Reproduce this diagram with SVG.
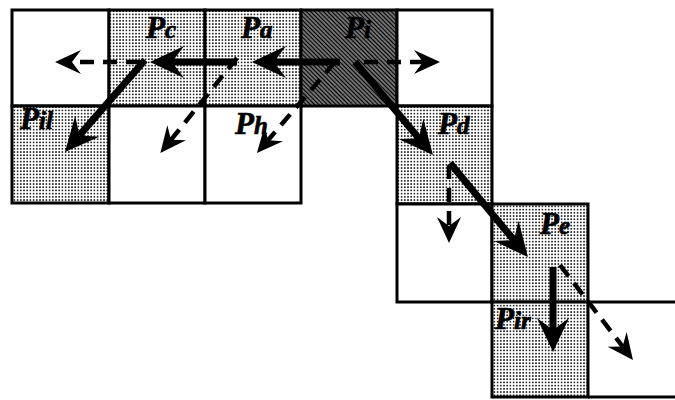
<svg xmlns="http://www.w3.org/2000/svg" width="675" height="400" viewBox="0 0 675 400">
  <defs>
    <!-- stippled fill for visited cells -->
    <pattern id="stipple" width="3.2" height="3.2" patternUnits="userSpaceOnUse">
      <rect width="3.2" height="3.2" fill="#ffffff"/>
      <circle cx="1.6" cy="1.6" r="0.9" fill="#000"/>
    </pattern>
    <!-- hatched fill for the current cell -->
    <pattern id="hatch" width="3" height="3" patternUnits="userSpaceOnUse" patternTransform="rotate(45)">
      <rect width="3" height="3" fill="#a0a0a0"/>
      <line x1="0" y1="1.5" x2="3" y2="1.5" stroke="#000" stroke-width="1.6"/>
    </pattern>
    <marker id="headSolid" markerUnits="userSpaceOnUse" markerWidth="36" markerHeight="36" viewBox="0 0 36 36" refX="13" refY="18" orient="auto">
      <path d="M35,18 L1,2 L13,18 L1,34 Z" fill="#000"/>
    </marker>
    <marker id="headDash" markerUnits="userSpaceOnUse" markerWidth="28" markerHeight="28" viewBox="0 0 28 28" refX="9" refY="14" orient="auto">
      <path d="M26,14 L0,2 L9,14 L0,26 Z" fill="#000"/>
    </marker>
    <style>
      .cell { stroke: #000; stroke-width: 3; }
      .plain { fill: #fff; }
      .shade { fill: url(#stipple); }
      .dark { fill: url(#hatch); }
      .lbl { font-family: "Liberation Serif", "Times New Roman", serif; font-weight: bold; font-style: italic; font-size: 31px; fill: #000; stroke: #000; stroke-width: 0.7; }
      .sub { font-size: 25px; }
      .solid { stroke: #000; stroke-width: 7; fill: none; marker-end: url(#headSolid); }
      .dash { stroke: #000; stroke-width: 4.5; fill: none; stroke-dasharray: 14 9; marker-end: url(#headDash); }
      .edge { stroke: #000; stroke-width: 3; fill: none; }
    </style>
  </defs>

  <rect width="675" height="400" fill="#fff"/>

  <!-- row 1 -->
  <g id="cell-r1c1"><rect class="cell plain" x="12" y="10" width="97" height="96"/></g>
  <g id="Pc"><rect class="cell shade" x="109" y="10" width="96" height="96"/>
    <text class="lbl" x="146" y="38">P<tspan class="sub">c</tspan></text></g>
  <g id="Pa"><rect class="cell shade" x="205" y="10" width="96" height="96"/>
    <text class="lbl" x="241" y="38">P<tspan class="sub">a</tspan></text></g>
  <g id="Pi"><rect class="cell dark" x="301" y="10" width="96" height="96"/>
    <text class="lbl" x="345" y="38">P<tspan class="sub">i</tspan></text></g>
  <g id="cell-r1c5"><rect class="cell plain" x="397" y="10" width="95" height="96"/></g>

  <!-- row 2 -->
  <g id="Pil"><rect class="cell shade" x="12" y="106" width="97" height="97"/>
    <text class="lbl" x="20" y="129">P<tspan class="sub">il</tspan></text></g>
  <g id="cell-r2c2"><rect class="cell plain" x="109" y="106" width="96" height="97"/></g>
  <g id="Ph"><rect class="cell plain" x="205" y="106" width="96" height="97"/>
    <text class="lbl" x="235" y="134">P<tspan class="sub">h</tspan></text></g>
  <g id="Pd"><rect class="cell shade" x="397" y="106" width="95" height="98"/>
    <text class="lbl" x="438" y="134">P<tspan class="sub">d</tspan></text></g>

  <!-- row 3 -->
  <g id="cell-r3c5"><rect class="cell plain" x="397" y="204" width="95" height="98"/></g>
  <g id="Pe"><rect class="cell shade" x="492" y="204" width="96" height="98"/>
    <text class="lbl" x="540" y="234">P<tspan class="sub">e</tspan></text></g>

  <!-- row 4 -->
  <g id="Pir"><rect class="cell shade" x="492" y="302" width="96" height="95"/>
    <text class="lbl" x="495" y="329">P<tspan class="sub">ir</tspan></text></g>
  <g id="cell-r4c7">
    <line class="edge" x1="588" y1="302" x2="675" y2="302"/>
    <line class="edge" x1="588" y1="397" x2="675" y2="397"/>
  </g>

  <!-- connectors -->
  <g id="connectors">
    <line class="dash" x1="140" y1="62" x2="72" y2="62"/>
    <line class="dash" x1="237" y1="58" x2="171" y2="139.8"/>
    <line class="dash" x1="335" y1="62" x2="268" y2="140.2"/>
    <line class="dash" x1="364" y1="62" x2="423" y2="62"/>
    <line class="dash" x1="449" y1="165" x2="449" y2="226"/>
    <line class="dash" x1="560" y1="265" x2="622.6" y2="346.5"/>

    <line class="solid" x1="340" y1="62" x2="274" y2="62"/>
    <line class="solid" x1="237" y1="62" x2="172" y2="62"/>
    <line class="solid" x1="145" y1="60" x2="79.4" y2="135.4"/>
    <line class="solid" x1="355" y1="62" x2="418.8" y2="138.2"/>
    <line class="solid" x1="450" y1="163" x2="513.9" y2="240.1"/>
    <line class="solid" x1="553" y1="267" x2="553" y2="330"/>
  </g>
</svg>
